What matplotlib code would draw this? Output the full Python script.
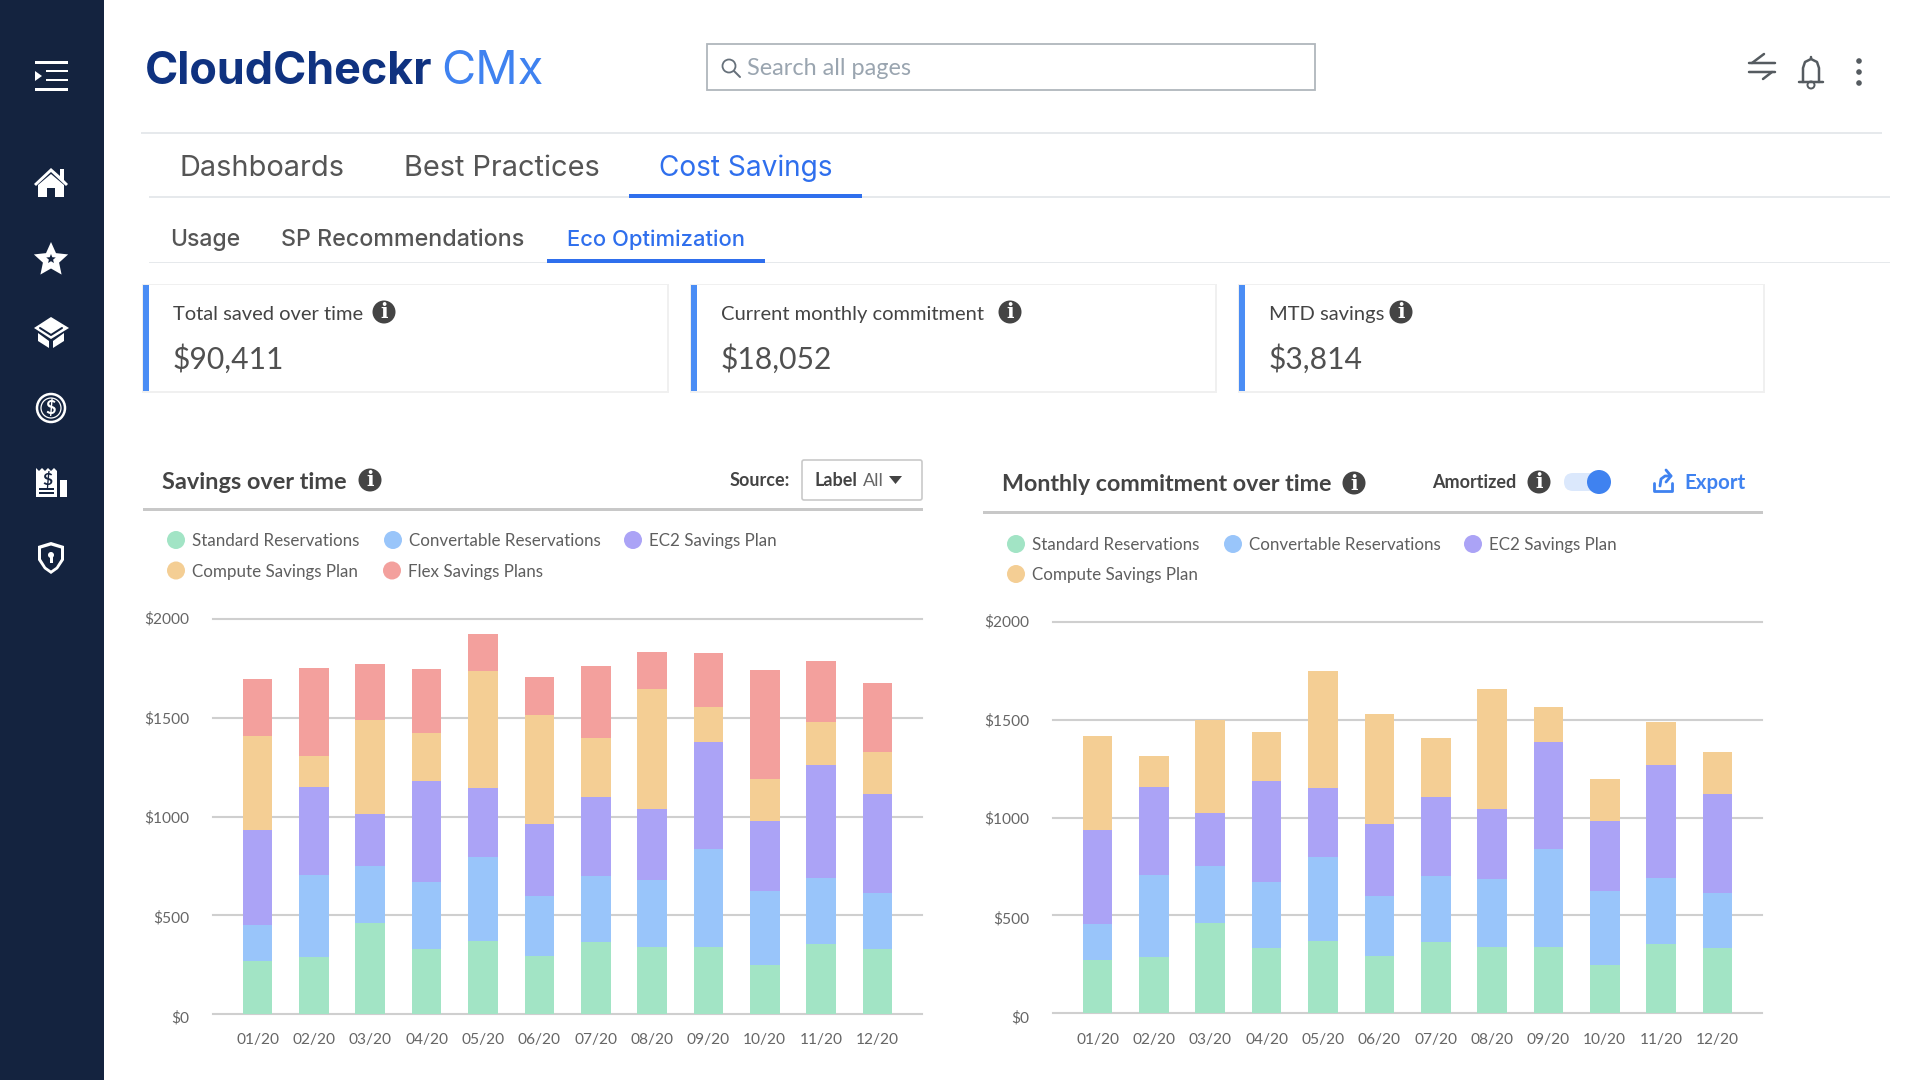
import matplotlib
matplotlib.use('Agg')
import matplotlib.pyplot as plt
import numpy as np
from matplotlib.patches import Circle, FancyBboxPatch, Polygon, Rectangle
from matplotlib.transforms import ScaledTranslation

months = ['01/20', '02/20', '03/20', '04/20', '05/20', '06/20',
          '07/20', '08/20', '09/20', '10/20', '11/20', '12/20']
y_ticks = [0, 500, 1000, 1500, 2000]
y_tick_labels = ['$0', '$500', '$1000', '$1500', '$2000']

# savings over time
sav_standard = [267, 286, 460, 330, 369, 292, 362, 338, 338, 247, 353, 330]
sav_convertable = [183, 418, 289, 336, 426, 304, 336, 341, 495, 375, 335, 282]
sav_ec2 = [482, 448, 265, 516, 350, 365, 401, 358, 546, 355, 571, 502]
sav_compute = [478, 156, 475, 243, 593, 555, 298, 609, 176, 213, 218, 213]
sav_flex = [289, 446, 286, 321, 189, 191, 365, 189, 274, 555, 313, 348]

# monthly commitment over time
com_standard = [271, 286, 463, 332, 370, 293, 363, 339, 339, 247, 354, 332]
com_convertable = [184, 421, 290, 337, 429, 307, 337, 346, 499, 376, 339, 284]
com_ec2 = [482, 451, 269, 520, 353, 368, 405, 359, 550, 359, 574, 504]
com_compute = [482, 155, 477, 247, 598, 560, 300, 613, 179, 215, 221, 216]

GREEN = '#a2e4c5'
BLUE = '#99c5fa'
PURPLE = '#aba3f6'
ORANGE = '#f4ce94'
RED = '#f3a09d'
NAVY = '#14233f'
ACCENT = '#3f82f0'
TEXT = '#444444'
BODY_FONT = 'Lato'
HEAD_FONT = 'Inter'

fig = plt.figure(figsize=(19.2, 10.8), dpi=100, facecolor='white')

# whole-figure axes in pixels for the page around the charts
ui = fig.add_axes([0, 0, 1, 1], zorder=0)
ui.set_xlim(0, 1920)
ui.set_ylim(1080, 0)
ui.axis('off')


def label(x, y, s, px, color=TEXT, weight='normal', family=BODY_FONT, ha='left', zorder=5):
    ui.text(x, y, s, fontsize=px * 0.72, color=color, fontweight=weight,
            family=family, ha=ha, va='baseline', zorder=zorder)


def rect(x0, y0, x1, y1, color, zorder=2):
    ui.add_patch(Rectangle((x0, y0), x1 - x0, y1 - y0, facecolor=color, edgecolor='none', zorder=zorder))


def poly(points, color, zorder=4):
    ui.add_patch(Polygon(points, closed=True, facecolor=color, edgecolor='none', zorder=zorder))


def line(xs, ys, color, lw=2, zorder=4):
    ui.plot(xs, ys, color=color, lw=lw * 0.72, solid_capstyle='round', zorder=zorder)


def star_points(cx, cy, outer, inner):
    angles = np.arange(10) * np.pi / 5 - np.pi / 2
    radii = np.where(np.arange(10) % 2 == 0, outer, inner)
    return np.column_stack([cx + radii * np.cos(angles), cy + radii * np.sin(angles)])


def info_icon(cx, cy, r=11.5):
    ui.add_patch(Circle((cx, cy), r, facecolor=TEXT, edgecolor='none', zorder=4))
    ui.text(cx, cy + 0.5, 'i', fontsize=r * 1.25, color='white', fontweight='bold',
            family='DejaVu Serif', ha='center', va='center', zorder=5)


def legend_row(y, entries):
    for cx, color, name in entries:
        ui.add_patch(Circle((cx, y), 9, facecolor=color, edgecolor='none', zorder=4))
        label(cx + 16, y + 6, name, 17, color='#5f5f5f')


# sidebar
rect(0, 0, 104, 1080, NAVY)
for y0, x0 in [(62.5, 35), (71, 46), (80, 46), (89.5, 35)]:
    rect(x0, y0 - 1.2, 68, y0 + 1.2, 'white', zorder=3)
poly([(35, 71), (42, 76), (35, 81)], 'white')

# home
poly([(34, 184), (51, 168), (60, 176), (60, 169), (64, 169), (64, 180), (68, 184), (66, 186), (51, 172), (36, 186)], 'white')
poly([(38, 185), (51, 174), (64, 185), (64, 197), (55, 197), (55, 188), (47, 188), (47, 197), (38, 197)], 'white')

# star
poly(star_points(51, 260, 18, 8.5), 'white')
poly(star_points(51, 259, 5, 2.2), NAVY, zorder=5)

# box
poly([(51, 317), (69, 328), (51, 339), (34, 328)], 'white')
poly([(38, 333), (49, 341), (49, 348), (38, 341)], 'white')
poly([(64, 333), (53, 341), (53, 348), (64, 341)], 'white')
line([40, 51, 62], [328, 335, 328], NAVY, lw=2, zorder=5)

# dollar
ui.add_patch(Circle((51, 408), 14, facecolor='none', edgecolor='white', lw=1.8, zorder=4))
ui.add_patch(Circle((51, 408), 10, facecolor='none', edgecolor='white', lw=0.9, zorder=4))
ui.text(51, 408, r'\$', fontsize=13, color='white', fontweight='bold', family=BODY_FONT,
        ha='center', va='center', zorder=5)

# receipt
poly([(36, 468), (39, 471), (42, 468), (45, 471), (48, 468), (51, 471), (54, 468), (57, 471), (57, 497), (36, 497)], 'white')
rect(60, 480, 67, 497, 'white', zorder=4)
ui.text(47, 479, r'\$', fontsize=12.5, color=NAVY, fontweight='bold', family=BODY_FONT,
        ha='center', va='center', zorder=5)
rect(39, 488, 54, 490, NAVY, zorder=5)
rect(39, 492, 54, 494, NAVY, zorder=5)

# shield
poly([(51, 542), (64, 546), (64, 560), (58, 569), (51, 574), (44, 569), (38, 560), (38, 546)], 'white')
poly([(51, 545.5), (61, 548.5), (61, 559), (56, 567), (51, 570.5), (46, 567), (41, 559), (41, 548.5)], NAVY, zorder=5)
ui.add_patch(Circle((51, 555), 3, facecolor='white', edgecolor='none', zorder=6))
rect(49.5, 556, 52.5, 563, 'white', zorder=6)

# logo
label(145, 84, 'CloudCheckr', 45, color='#0f3280', weight='bold', family=HEAD_FONT)
label(441, 84, 'CMx', 47, color=ACCENT, family=HEAD_FONT)

# search box
ui.add_patch(Rectangle((707, 44), 608, 46, facecolor='white', edgecolor='#b0b6bc', lw=1.3, zorder=3))
ui.add_patch(Circle((729, 66), 6.5, facecolor='none', edgecolor='#66707a', lw=1.3, zorder=4))
line([734, 740], [71, 77], '#66707a', lw=2)
label(747, 75, 'Search all pages', 23.5, color='#9aa5b0')

# top right icons
ICON = '#555b60'
line([1749, 1775], [63, 63], ICON, lw=2.5)
line([1752, 1764], [63, 54], ICON, lw=2.5)
line([1749, 1775], [72, 72], ICON, lw=2.5)
line([1763, 1772], [79, 72], ICON, lw=2.5)
bell_x = [1803, 1803, 1805, 1811, 1817, 1819, 1819]
bell_y = [82, 68, 62, 59, 62, 68, 82]
line(bell_x, bell_y, ICON, lw=2.5)
line([1799, 1823], [82, 82], ICON, lw=2.5)
line([1811, 1811], [57, 59], ICON, lw=2.5)
ui.add_patch(Circle((1811, 85), 3.5, facecolor='none', edgecolor=ICON, lw=1.4, zorder=4))
for dot_y in [61, 72, 83]:
    ui.add_patch(Circle((1859, dot_y), 2.8, facecolor=ICON, edgecolor='none', zorder=4))

# tabs
rect(141, 132, 1882, 134, '#e6e9ec')
label(179, 176, 'Dashboards', 29, color='#555555', family=HEAD_FONT)
label(404, 176, 'Best Practices', 29, color='#555555', family=HEAD_FONT)
label(659, 176, 'Cost Savings', 28, color='#2f6fed', family=HEAD_FONT)
rect(149, 196, 1890, 198, '#e6e9ec')
rect(629, 194, 862, 198, '#2f6fed', zorder=3)
label(170, 246, 'Usage', 23, color='#555555', weight='medium', family=HEAD_FONT)
label(281, 246, 'SP Recommendations', 23.3, color='#555555', weight='medium', family=HEAD_FONT)
label(567, 246, 'Eco Optimization', 22, color='#2f6fed', weight='medium', family=HEAD_FONT)
rect(149, 261.5, 1890, 263, '#e6e9ec')
rect(547, 259, 765, 263, '#2f6fed', zorder=3)

# summary cards
cards = [(143, 667, 'Total saved over time', '$90,411', 384),
         (691, 1215, 'Current monthly commitment', '$18,052', 1010),
         (1239, 1763, 'MTD savings', '$3,814', 1401)]
for x0, x1, name, amount, info_x in cards:
    rect(x0 - 1, 283.5, x1 + 2, 392.5, '#f0f0f0', zorder=1)
    rect(x0, 285, x1, 390.5, 'white', zorder=2)
    rect(x0, 285, x0 + 6, 390.5, '#4a8df5', zorder=3)
    label(x0 + 30, 320, name, 20.2)
    info_icon(info_x, 312)
    label(x0 + 30, 369, amount.replace('$', r'\$'), 30, color='#505050')

# left chart header
label(162, 489, 'Savings over time', 23.5, weight='bold')
info_icon(370, 480)
label(730, 486, 'Source:', 18, weight='bold')
ui.add_patch(FancyBboxPatch((802, 460), 120, 40, boxstyle='round,pad=0,rounding_size=2',
                            facecolor='white', edgecolor='#c9c9c9', lw=1.2, zorder=3))
label(814, 486, 'Label', 18, weight='bold')
label(863, 486, 'All', 18, color='#666666')
poly([(889, 476), (902, 476), (895.5, 484)], TEXT)
rect(143, 507.5, 923, 510.5, '#c8c8c8')

legend_row(540, [(176, GREEN, 'Standard Reservations'),
                 (393, BLUE, 'Convertable Reservations'),
                 (633, PURPLE, 'EC2 Savings Plan')])
legend_row(570.5, [(176, ORANGE, 'Compute Savings Plan'),
                   (392, RED, 'Flex Savings Plans')])

# right chart header
label(1002, 491, 'Monthly commitment over time', 23.3, weight='bold')
info_icon(1354, 483)
label(1432, 488, 'Amortized', 18, weight='bold')
info_icon(1539, 482)
ui.add_patch(FancyBboxPatch((1564, 473), 42, 18, boxstyle='round,pad=0,rounding_size=9',
                            facecolor='#dbe8fc', edgecolor='none', zorder=3))
ui.add_patch(Circle((1599, 482), 12, facecolor=ACCENT, edgecolor='none', zorder=4))
line([1654, 1654, 1672, 1672], [483, 491, 491, 483], ACCENT, lw=2.8)
line([1660, 1661, 1665, 1671], [486, 479, 476, 476], ACCENT, lw=2.8)
line([1666, 1671, 1666], [470, 476, 482], ACCENT, lw=2.8)
label(1684, 489, 'Export', 20.5, color=ACCENT, weight='bold')
rect(983, 510.5, 1763, 513.5, '#c8c8c8')

legend_row(544, [(1016, GREEN, 'Standard Reservations'),
                 (1233, BLUE, 'Convertable Reservations'),
                 (1473, PURPLE, 'EC2 Savings Plan')])
legend_row(574, [(1016, ORANGE, 'Compute Savings Plan')])


def stacked_chart(box, series):
    left, top, right, bottom = box
    ax = fig.add_axes([left / 1920, 1 - bottom / 1080, (right - left) / 1920, (bottom - top) / 1080], zorder=2)
    ax.patch.set_alpha(0)
    x = np.arange(len(months))
    base = np.zeros(len(months))
    for values, color in series:
        ax.bar(x, values, width=0.525, bottom=base, color=color, zorder=3)
        base = base + np.array(values)
    ax.set_xlim(-0.8, 11.79)
    ax.set_ylim(0, 2000)
    ax.set_yticks(y_ticks)
    ax.set_yticklabels([s.replace('$', r'\$') for s in y_tick_labels])
    ax.set_xticks(x)
    ax.set_xticklabels(months)
    ax.tick_params(axis='both', length=0, labelsize=11.2, labelcolor='#666666', labelfontfamily=BODY_FONT)
    ax.tick_params(axis='y', pad=17)
    ax.tick_params(axis='x', pad=14)
    ax.grid(axis='y', color='#cfcfcf', lw=1.5, zorder=1)
    for gridline in ax.yaxis.get_gridlines():
        gridline.set_clip_on(False)
    # the y labels sit a little lower than their gridlines towards the bottom
    for tick_label, drop in zip(ax.get_yticklabels(), [3.2, 1.8, 0.5, -0.5, -1.5]):
        tick_label.set_transform(tick_label.get_transform() + ScaledTranslation(0, -drop / 100, fig.dpi_scale_trans))
    for spine in ax.spines.values():
        spine.set_visible(False)
    return ax


stacked_chart((212.5, 619.3, 922, 1013.7),
              [(sav_standard, GREEN), (sav_convertable, BLUE), (sav_ec2, PURPLE),
               (sav_compute, ORANGE), (sav_flex, RED)])
stacked_chart((1052.5, 622, 1762, 1013.3),
              [(com_standard, GREEN), (com_convertable, BLUE), (com_ec2, PURPLE),
               (com_compute, ORANGE)])

fig.savefig('out.png', dpi=100)
